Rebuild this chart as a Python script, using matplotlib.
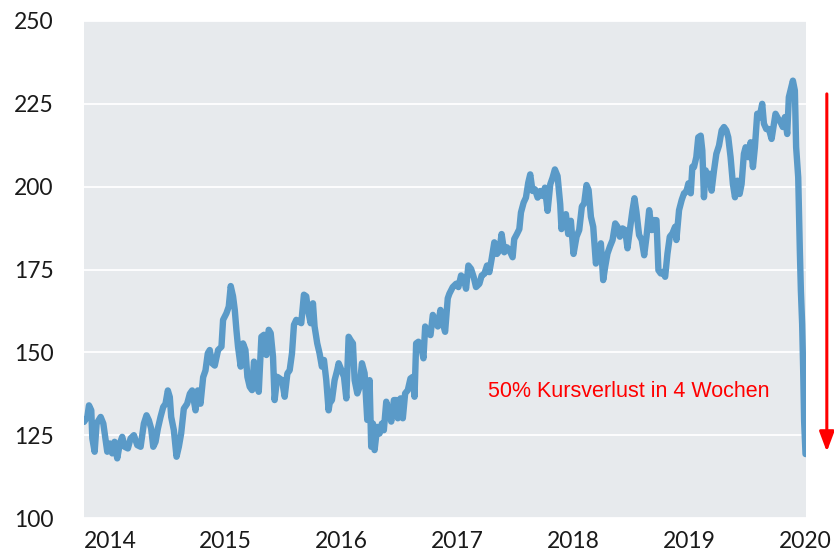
import matplotlib
matplotlib.use("Agg")
import matplotlib.pyplot as plt

# price series (decimal year, value)
years = [
    2013.776, 2013.805, 2013.819, 2013.839, 2013.848, 2013.868, 2013.885, 2013.920, 2013.943, 2013.963,
    2013.977, 2014.000, 2014.020, 2014.040, 2014.063, 2014.086, 2014.106, 2014.127, 2014.155, 2014.178,
    2014.207, 2014.236, 2014.265, 2014.293, 2014.316, 2014.336, 2014.356, 2014.374, 2014.394, 2014.414,
    2014.437, 2014.460, 2014.480, 2014.500, 2014.517, 2014.529, 2014.552, 2014.575, 2014.595, 2014.615,
    2014.638, 2014.667, 2014.690, 2014.710, 2014.739, 2014.759, 2014.782, 2014.805, 2014.825, 2014.845,
    2014.862, 2014.882, 2014.905, 2014.934, 2014.963, 2014.977, 2015.006, 2015.026, 2015.043, 2015.063,
    2015.078, 2015.092, 2015.106, 2015.129, 2015.149, 2015.170, 2015.187, 2015.207, 2015.227, 2015.244,
    2015.264, 2015.285, 2015.308, 2015.330, 2015.351, 2015.371, 2015.388, 2015.408, 2015.422, 2015.445,
    2015.466, 2015.486, 2015.509, 2015.532, 2015.552, 2015.572, 2015.589, 2015.609, 2015.629, 2015.652,
    2015.675, 2015.695, 2015.710, 2015.733, 2015.753, 2015.767, 2015.790, 2015.810, 2015.830, 2015.848,
    2015.868, 2015.888, 2015.897, 2015.917, 2015.940, 2015.963, 2015.975, 2015.998, 2016.021, 2016.041,
    2016.061, 2016.078, 2016.098, 2016.113, 2016.136, 2016.156, 2016.176, 2016.199, 2016.222, 2016.242,
    2016.256, 2016.271, 2016.285, 2016.308, 2016.328, 2016.348, 2016.365, 2016.386, 2016.406, 2016.429,
    2016.452, 2016.472, 2016.486, 2016.509, 2016.529, 2016.549, 2016.572, 2016.595, 2016.615, 2016.630,
    2016.644, 2016.664, 2016.687, 2016.707, 2016.722, 2016.745, 2016.768, 2016.788, 2016.808, 2016.831,
    2016.854, 2016.874, 2016.894, 2016.917, 2016.931, 2016.960, 2016.989, 2017.009, 2017.032, 2017.055,
    2017.075, 2017.095, 2017.118, 2017.141, 2017.161, 2017.190, 2017.210, 2017.233, 2017.256, 2017.276,
    2017.296, 2017.319, 2017.342, 2017.362, 2017.382, 2017.405, 2017.428, 2017.451, 2017.477, 2017.491,
    2017.514, 2017.535, 2017.549, 2017.572, 2017.592, 2017.612, 2017.629, 2017.649, 2017.670, 2017.693,
    2017.716, 2017.736, 2017.756, 2017.779, 2017.802, 2017.822, 2017.842, 2017.865, 2017.888, 2017.899,
    2017.917, 2017.937, 2017.957, 2017.980, 2018.003, 2018.029, 2018.052, 2018.075, 2018.095, 2018.115,
    2018.133, 2018.153, 2018.173, 2018.196, 2018.219, 2018.239, 2018.259, 2018.276, 2018.296, 2018.317,
    2018.340, 2018.363, 2018.383, 2018.403, 2018.426, 2018.449, 2018.469, 2018.489, 2018.512, 2018.529,
    2018.546, 2018.569, 2018.592, 2018.613, 2018.633, 2018.656, 2018.679, 2018.699, 2018.719, 2018.736,
    2018.756, 2018.776, 2018.794, 2018.814, 2018.834, 2018.857, 2018.880, 2018.891, 2018.914, 2018.937,
    2018.957, 2018.977, 2018.995, 2019.015, 2019.029, 2019.043, 2019.063, 2019.080, 2019.101, 2019.115,
    2019.129, 2019.144, 2019.158, 2019.178, 2019.195, 2019.216, 2019.236, 2019.259, 2019.282, 2019.302,
    2019.322, 2019.339, 2019.359, 2019.379, 2019.397, 2019.417, 2019.437, 2019.454, 2019.474, 2019.489,
    2019.511, 2019.532, 2019.552, 2019.569, 2019.589, 2019.609, 2019.632, 2019.647, 2019.667, 2019.690,
    2019.713, 2019.733, 2019.747, 2019.770, 2019.790, 2019.810, 2019.828, 2019.848, 2019.862, 2019.876,
    2019.897, 2019.914, 2019.925, 2019.943, 2019.948, 2019.957, 2019.966, 2019.977, 2019.986, 2019.994,
    2020.006,
]
prices = [
    129, 130.5, 134, 132.5, 124, 120, 128.5, 130.5, 128.5, 123.5,
    120, 122.5, 119.5, 123, 118, 122.5, 124.5, 121.5, 121, 124,
    125, 122, 121.5, 128.5, 131, 129.5, 127, 121.5, 123, 127,
    130.5, 133.5, 134.5, 138.5, 136.5, 130.5, 126.5, 118.5, 121.5, 125.5,
    133, 134.5, 137.5, 138.5, 132.5, 138.5, 134.5, 142.5, 144.5, 149.7,
    150.7, 146.7, 146, 150.7, 151.7, 159.8, 161.8, 163.8, 170, 166.9,
    162.8, 156.8, 151.7, 145.7, 152.7, 150.7, 142.6, 139.6, 138.6, 147.2,
    143.6, 138.1, 154.7, 155.3, 149.2, 156.8, 155.8, 148.7, 135.6, 142.6,
    142.1, 141.6, 136.6, 143.6, 144.6, 149.7, 158.3, 159.8, 159.3, 158.8,
    167.4, 166.9, 162.8, 158.8, 164.8, 157.8, 152.7, 149.7, 145.7, 147.7,
    141.6, 132.5, 134.6, 135.6, 141.6, 144.7, 146.7, 144.7, 142.6, 136.1,
    154.7, 153.7, 152.7, 141.6, 137.6, 139.6, 146.7, 143.7, 129.6, 141.6,
    121.5, 128.5, 120.5, 127.5, 125.5, 128.5, 126.5, 135.1, 132.6, 129.1,
    135.6, 135.6, 130.1, 136.1, 130.1, 137.6, 138.6, 142.1, 142.6, 136.6,
    152.7, 153.2, 151.7, 148.2, 157.8, 155.8, 155.2, 161.3, 159.8, 157.8,
    162.8, 158.8, 156.2, 166.3, 167.7, 169.7, 170.7, 169.7, 173.2, 172.2,
    169.2, 176.2, 175.2, 172.7, 169.7, 170.7, 173.2, 173.7, 176.2, 174.2,
    178.2, 183.2, 179.7, 180.7, 185.7, 180.2, 181.7, 180.7, 178.7, 184.2,
    185.7, 187.2, 192.2, 195.2, 196.7, 201.2, 203.7, 198.7, 199.2, 196.7,
    198.7, 197.2, 199.7, 192.7, 200.7, 202.7, 205.2, 203.2, 194.7, 187.2,
    190.7, 191.7, 185.7, 189.7, 179.7, 184.9, 186.9, 194, 195, 200.5,
    199, 190.9, 187.9, 176.8, 179.8, 182.9, 171.8, 175.8, 179.8, 181.9,
    183.9, 188.9, 187.9, 184.9, 187.4, 186.9, 181.4, 186.9, 192.9, 196.5,
    192.4, 185.4, 183.9, 179.3, 184.9, 192.9, 186.9, 189.9, 189.9, 174.8,
    173.8, 174.3, 172.8, 179.8, 184.9, 185.9, 187.9, 183.9, 192.9, 196,
    198, 198.5, 201, 198, 206, 205.9, 208.9, 214.9, 215.4, 210.9,
    196.8, 204.9, 200.8, 203.9, 198.8, 204.9, 209.9, 212.4, 217, 218,
    217, 214.9, 208.9, 200.8, 196.8, 201.8, 197.8, 200.8, 209.9, 211.9,
    208.9, 213.4, 205.9, 211.9, 222, 220.9, 225, 219, 217.4, 217.4,
    214.4, 219, 222, 220.5, 219.5, 218, 221, 215.9, 227, 229,
    232, 229, 211.9, 202.8, 194.8, 180.7, 168.6, 158.5, 144.4, 129.3,
    119.3,
]
year_ticks = [2014, 2015, 2016, 2017, 2018, 2019, 2020]
y_ticks = [100, 125, 150, 175, 200, 225, 250]
note = "50% Kursverlust in 4 Wochen"
drop_top = 228
drop_bottom = 120

fig = plt.figure(figsize=(8.34, 5.57), dpi=100)
ax = fig.add_axes([0.1007, 0.070, 0.8657, 0.8923])
ax.set_facecolor("#e7eaed")

ax.plot(years, prices, color="#5a9ac8", lw=4.6, solid_joinstyle="round", solid_capstyle="round", zorder=3)

ax.set_xlim(2013.776, 2020.01)
ax.set_ylim(100, 250)
ax.set_yticks(y_ticks)
ax.set_xticks(year_ticks)
ax.grid(axis="y", color="white", lw=1.3, zorder=1)
ax.grid(axis="x", visible=False)
ax.set_axisbelow(True)
for s in ax.spines.values():
    s.set_visible(False)
ax.tick_params(length=0, labelsize=16.5, colors="#1a1a1a")
ax.tick_params(axis="y", pad=22)
ax.tick_params(axis="x", pad=9)
for lab in ax.get_xticklabels() + ax.get_yticklabels():
    lab.set_family(["Lato", "DejaVu Sans"])

ax.text(2018.483, 138.3, note, color="red", fontsize=15.5, family="Liberation Sans",
        ha="center", va="center")

ax.annotate("", xy=(2020.19, drop_bottom), xytext=(2020.19, drop_top),
            annotation_clip=False,
            arrowprops=dict(arrowstyle="-|>,head_length=1.2,head_width=0.45",
                            color="red", lw=2.2, shrinkA=0, shrinkB=0))

fig.savefig("out.png", dpi=100)
